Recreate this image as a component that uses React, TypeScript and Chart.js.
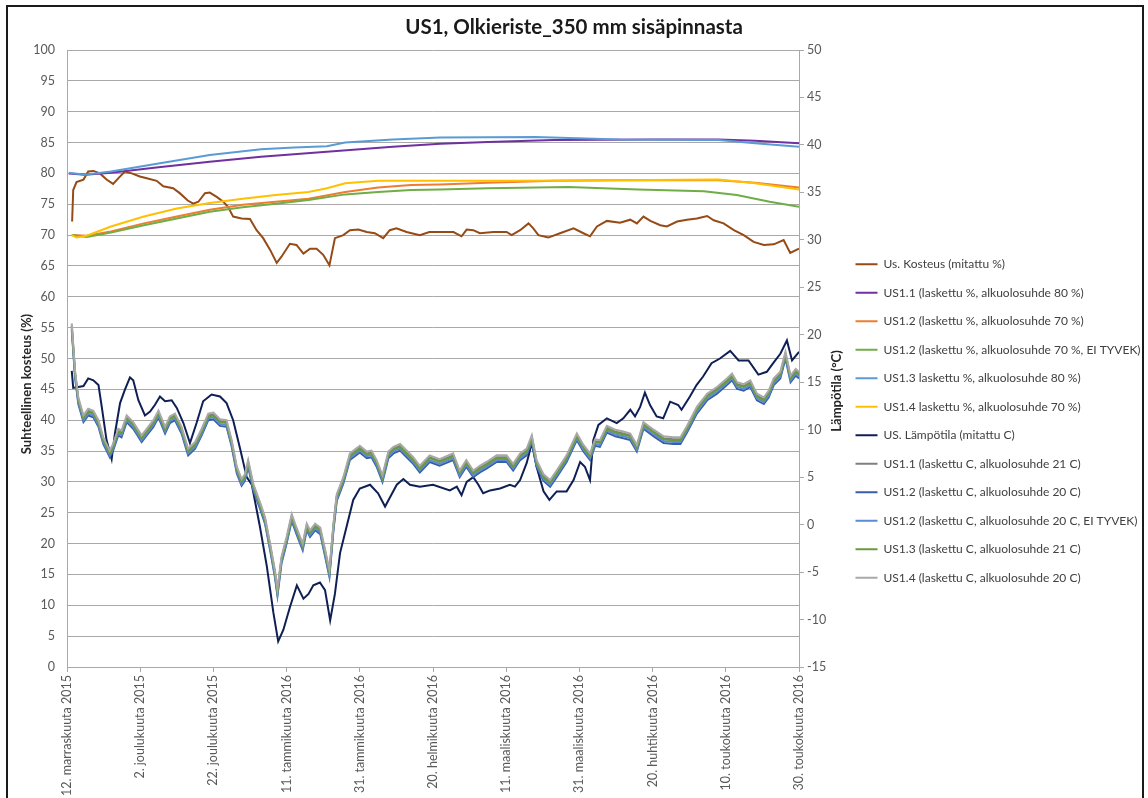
import React, { useEffect, useRef } from 'react';
import { Chart, registerables } from 'chart.js';

Chart.register(...registerables);

// ---------------- DATA ----------------
const chartTitle = 'US1, Olkieriste_350 mm sisäpinnasta';
const leftAxisTitle = 'Suhteellinen kosteus (%)';
const rightAxisTitle = 'Lämpötila (°C)';

// day offsets from 12 Nov 2015 for every x tick (step 20 days)
const xTickLabels = [
  '12. marraskuuta 2015', '2. joulukuuta 2015', '22. joulukuuta 2015', '11. tammikuuta 2016',
  '31. tammikuuta 2016', '20. helmikuuta 2016', '11. maaliskuuta 2016', '31. maaliskuuta 2016',
  '20. huhtikuuta 2016', '10. toukokuuta 2016', '30. toukokuuta 2016',
];

const seriesNames = [
  'Us. Kosteus (mitattu %)',
  'US1.1 (laskettu %, alkuolosuhde 80 %)',
  'US1.2 (laskettu %, alkuolosuhde 70 %)',
  'US1.2 (laskettu %, alkuolosuhde 70 %, EI TYVEK)',
  'US1.3 laskettu %, alkuolosuhde 80 %)',
  'US1.4 laskettu %, alkuolosuhde 70 %)',
  'US. Lämpötila (mitattu C)',
  'US1.1 (laskettu C, alkuolosuhde 21 C)',
  'US1.2 (laskettu C, alkuolosuhde 20 C)',
  'US1.2 (laskettu C, alkuolosuhde 20 C, EI TYVEK)',
  'US1.3 (laskettu C, alkuolosuhde 21 C)',
  'US1.4 (laskettu C, alkuolosuhde 20 C)',
];

// measured relative humidity (%)
const kosteusDays = [1.4, 1.7, 2.6, 4.5, 5.8, 7.2, 9, 10.8, 12.6, 14, 15.8, 17.7, 19.9, 21.8, 24.5, 26.3, 29, 30.8, 33, 34.5, 35.9, 37.7, 39, 40.9, 42.7, 44, 45.4, 47.7, 50, 51.8, 53.6, 55.5, 57.3, 58.6, 60.9, 62.7, 64.6, 66.4, 68.2, 70, 71.7, 73.2, 75.5, 77.3, 79.6, 81.9, 84.1, 86.4, 88.2, 90, 92.8, 96.4, 99, 101, 105.6, 107.8, 109.2, 111, 112.8, 116.5, 120.1, 121.5, 123.8, 126.1, 127.4, 128.8, 131.5, 134.7, 138.4, 141.1, 142.9, 144.8, 147.5, 151.1, 153.9, 155.7, 157.5, 159.4, 162.1, 163.9, 166.7, 169.4, 172.1, 174.9, 176.7, 179.4, 182.2, 184.9, 187.6, 190.4, 193.1, 195.8, 197.6, 200];
const kosteusValues = [72.2, 77.3, 78.6, 79, 80.3, 80.4, 80, 79, 78.3, 79.2, 80.3, 80, 79.5, 79.2, 78.8, 77.9, 77.6, 76.8, 75.6, 75.1, 75.4, 76.8, 76.9, 76.2, 75.4, 74.6, 73, 72.7, 72.6, 70.8, 69.5, 67.6, 65.5, 66.5, 68.6, 68.4, 67, 67.8, 67.8, 66.8, 65.1, 69.5, 70, 70.8, 70.9, 70.5, 70.3, 69.5, 70.8, 71.1, 70.5, 70, 70.5, 70.5, 70.5, 69.8, 70.9, 70.8, 70.3, 70.5, 70.5, 70, 70.8, 71.9, 71.1, 70, 69.6, 70.3, 71.1, 70.3, 69.8, 71.4, 72.3, 72, 72.5, 71.9, 73, 72.3, 71.6, 71.4, 72.2, 72.5, 72.7, 73.1, 72.4, 71.9, 70.8, 70, 68.9, 68.4, 68.5, 69.2, 67.1, 67.8];

// calculated relative humidity (%)
const us11pDays = [0.5, 5, 12, 25, 39, 53, 71, 89, 102, 115, 133, 160, 178, 188, 200];
const us11pValues = [80, 79.8, 80.1, 81, 81.9, 82.7, 83.5, 84.3, 84.8, 85.1, 85.4, 85.5, 85.5, 85.3, 84.9];

const us12pDays = [1.3, 5.4, 12, 21, 30, 39, 48, 57, 66, 76, 85, 94, 102, 115, 133, 151, 178, 188, 200];
const us12pValues = [70, 69.9, 70.6, 71.9, 73, 74.1, 74.9, 75.4, 75.9, 77, 77.7, 78.1, 78.2, 78.5, 78.8, 78.9, 78.9, 78.5, 77.7];

const us12pTyvekDays = [1.3, 5.4, 12, 21, 30, 39, 48, 57, 66, 76, 85, 94, 102, 115, 137, 156, 174, 183, 192, 200];
const us12pTyvekValues = [70, 69.7, 70.4, 71.6, 72.7, 73.8, 74.5, 75.1, 75.7, 76.6, 77, 77.3, 77.4, 77.6, 77.8, 77.4, 77.1, 76.5, 75.4, 74.6];

const us13pDays = [0.5, 5, 12, 25, 39, 53, 62, 71, 76, 89, 102, 128, 151, 178, 188, 200];
const us13pValues = [80.1, 79.8, 80.3, 81.6, 83, 83.9, 84.2, 84.4, 85, 85.5, 85.8, 85.9, 85.5, 85.4, 84.9, 84.3];

const us14pDays = [1.3, 2.6, 5.4, 12, 21, 30, 39, 48, 57, 66, 71, 76, 85, 102, 124, 151, 178, 188, 200];
const us14pValues = [70, 69.6, 69.9, 71.4, 73, 74.3, 75.2, 75.9, 76.5, 77, 77.6, 78.4, 78.8, 78.8, 78.8, 78.9, 79, 78.4, 77.4];

// measured temperature (°C)
const tempDays = [1.3, 1.7, 3.1, 4.5, 5.8, 7.2, 8.6, 9.5, 10.8, 12.2, 13.1, 14.5, 15.8, 17.2, 18.1, 19.5, 21.3, 22.7, 24, 25.4, 26.8, 28.6, 30, 31.8, 33.6, 35.4, 37.2, 39.5, 41.8, 43.6, 45.4, 47.3, 49.1, 50.5, 52.7, 54.6, 56.4, 57.7, 59.1, 60.9, 62.8, 64.6, 66, 67.3, 69.1, 70.5, 71.9, 73.2, 74.6, 76.4, 78.2, 80, 82.8, 85, 86.9, 88.3, 90.1, 91.9, 93.7, 96.4, 100, 104.6, 106.5, 107.8, 109.2, 111, 112.4, 113.7, 115.6, 118.3, 121, 122.4, 123.8, 125.6, 127, 128.3, 130.2, 131.8, 133.8, 136.5, 138.4, 140.2, 141.5, 142.9, 143.8, 145.2, 147.5, 150.2, 152, 153.9, 155.2, 156.6, 157.9, 159.3, 161.1, 162.9, 164.8, 167, 167.9, 170.2, 172, 173.8, 176.1, 178.4, 181.2, 183.5, 186.2, 188.9, 191.2, 193.1, 194.9, 196.7, 198.1, 200];
const tempValues = [16.2, 14.4, 14.5, 14.6, 15.4, 15.2, 14.7, 12.4, 8.9, 6.9, 9.6, 12.8, 14.2, 15.5, 15.2, 13.1, 11.5, 11.9, 12.6, 13.5, 13, 13.1, 12.3, 10.7, 8.6, 10.7, 13, 13.7, 13.5, 12.8, 11, 8, 5, 4.2, -0.2, -4.4, -9.3, -12.3, -11.1, -8.7, -6.4, -7.8, -7.3, -6.4, -6.1, -6.9, -10.1, -7.3, -3, -0.2, 2.6, 3.8, 4.2, 3.3, 1.9, 2.9, 4.2, 4.8, 4.2, 4.0, 4.2, 3.6, 4.0, 3.1, 4.5, 5.0, 4.2, 3.3, 3.6, 3.8, 4.2, 4.0, 4.7, 6.5, 8.6, 6.1, 3.5, 2.6, 3.5, 3.5, 4.7, 6.6, 6.1, 4.7, 8.9, 10.5, 11.2, 10.7, 11.2, 12.1, 11.4, 12.4, 13.9, 12.6, 11.4, 11.2, 12.95, 12.6, 12.1, 13.5, 14.7, 15.6, 17, 17.5, 18.3, 17.3, 17.3, 15.8, 16.1, 17.1, 18.0, 19.4, 17.3, 18.2];

// calculated temperatures (°C) share one set of days
const calcDays = [1.3, 2.2, 3.1, 4.5, 5.8, 7.2, 8.6, 9.9, 11.7, 12.6, 14, 14.9, 16.3, 18.1, 20.4, 22.2, 23.6, 25, 26.8, 28.1, 29.5, 31.3, 33.1, 35, 36.8, 38.6, 40, 41.8, 43.6, 45, 46.4, 47.7, 48.6, 49.5, 50.9, 52.7, 54.1, 55.5, 56.8, 57.5, 58.6, 60, 61.4, 62.7, 64.4, 65.5, 66.4, 67.8, 69.2, 70.5, 71.7, 72.8, 73.7, 75.5, 77.3, 80, 81.9, 83.2, 84.6, 86.2, 87.8, 89.2, 91, 92.8, 94.6, 96.4, 99.1, 101.8, 105.5, 107.3, 109.1, 111, 112.8, 114.6, 117.4, 120.1, 121.9, 123.8, 125.6, 127, 128.3, 130.2, 132, 133.8, 136.5, 139.3, 141.1, 142.9, 144.3, 145.6, 147.5, 149.8, 152, 153.9, 155.7, 157.5, 160.3, 163, 165.7, 167.6, 169.4, 172.1, 174.9, 177.6, 180.3, 181.7, 183.1, 184.9, 186.7, 188.5, 190.4, 191.7, 193.1, 194.9, 196.3, 197.7, 199.1, 200];
const us11cValues = [21.0, 16.0, 13.2, 11.3, 12.0, 11.8, 10.8, 9.0, 7.6, 8.3, 9.9, 9.7, 11.3, 10.6, 9.2, 10.1, 10.8, 11.8, 10.1, 11.2, 11.5, 10.1, 7.8, 8.5, 9.9, 11.5, 11.6, 10.9, 10.8, 8.7, 5.9, 4.6, 5.1, 6.6, 4.1, 2.2, 0.6, -2.2, -5.0, -7.0, -3.6, -1.5, 0.9, -0.5, -2.2, -0.1, -0.8, -0.1, -0.5, -2.8, -5.0, -0.1, 3.0, 4.8, 7.3, 8.1, 7.5, 7.6, 6.6, 5.0, 7.5, 8.0, 8.3, 7.6, 6.9, 6.0, 7.1, 6.7, 7.3, 5.5, 6.6, 5.5, 6.0, 6.4, 7.1, 7.1, 6.2, 7.3, 7.8, 9.2, 6.6, 5.1, 4.5, 5.5, 7.1, 9.4, 8.2, 7.3, 8.8, 8.7, 10.2, 9.8, 9.6, 9.4, 8.2, 10.6, 9.8, 9.1, 9.0, 9.0, 10.2, 12.2, 13.6, 14.3, 15.2, 15.7, 14.8, 14.6, 15.0, 13.6, 13.2, 13.9, 15.2, 15.9, 18.0, 15.5, 16.2, 15.9];
const us12cValues = [20.5, 15.5, 12.7, 10.8, 11.5, 11.3, 10.3, 8.5, 7.1, 7.8, 9.4, 9.2, 10.8, 10.1, 8.7, 9.6, 10.3, 11.3, 9.6, 10.7, 11.0, 9.6, 7.3, 8.0, 9.4, 11.0, 11.1, 10.4, 10.3, 8.2, 5.4, 4.1, 4.6, 6.1, 3.6, 1.7, 0.1, -2.7, -5.5, -7.5, -4.1, -2.0, 0.4, -1.0, -2.7, -0.6, -1.3, -0.6, -1.0, -3.3, -5.5, -0.6, 2.5, 4.3, 6.8, 7.6, 7.0, 7.1, 6.1, 4.5, 7.0, 7.5, 7.8, 7.1, 6.4, 5.5, 6.6, 6.2, 6.8, 5.0, 6.1, 5.0, 5.5, 5.9, 6.6, 6.6, 5.7, 6.8, 7.3, 8.7, 6.1, 4.6, 4.0, 5.0, 6.6, 8.9, 7.7, 6.8, 8.3, 8.2, 9.7, 9.3, 9.1, 8.9, 7.7, 10.1, 9.3, 8.6, 8.5, 8.5, 9.7, 11.7, 13.1, 13.8, 14.7, 15.2, 14.3, 14.1, 14.5, 13.1, 12.7, 13.4, 14.7, 15.4, 17.5, 15.0, 15.7, 15.4];
const us12cTyvekValues = [20.7, 15.7, 12.9, 11.0, 11.7, 11.5, 10.5, 8.7, 7.3, 8.0, 9.6, 9.4, 11.0, 10.3, 8.9, 9.8, 10.5, 11.5, 9.8, 10.9, 11.2, 9.8, 7.5, 8.2, 9.6, 11.2, 11.3, 10.6, 10.5, 8.4, 5.6, 4.3, 4.8, 6.3, 3.8, 1.9, 0.3, -2.5, -5.3, -7.3, -3.9, -1.8, 0.6, -0.8, -2.5, -0.4, -1.1, -0.4, -0.8, -3.1, -5.3, -0.4, 2.7, 4.5, 7.0, 7.8, 7.2, 7.3, 6.3, 4.7, 7.2, 7.7, 8.0, 7.3, 6.6, 5.7, 6.8, 6.4, 7.0, 5.2, 6.3, 5.2, 5.7, 6.1, 6.8, 6.8, 5.9, 7.0, 7.5, 8.9, 6.3, 4.8, 4.2, 5.2, 6.8, 9.1, 7.9, 7.0, 8.5, 8.4, 9.9, 9.5, 9.3, 9.1, 7.9, 10.3, 9.5, 8.8, 8.7, 8.7, 9.9, 11.9, 13.3, 14.0, 14.9, 15.4, 14.5, 14.3, 14.7, 13.3, 12.9, 13.6, 14.9, 15.6, 17.7, 15.2, 15.9, 15.6];
const us13cValues = [20.9, 15.9, 13.1, 11.2, 11.9, 11.7, 10.7, 8.9, 7.5, 8.2, 9.8, 9.6, 11.2, 10.5, 9.1, 10.0, 10.7, 11.7, 10.0, 11.1, 11.4, 10.0, 7.7, 8.4, 9.8, 11.4, 11.5, 10.8, 10.7, 8.6, 5.8, 4.5, 5.0, 6.5, 4.0, 2.1, 0.5, -2.3, -5.1, -7.1, -3.7, -1.6, 0.8, -0.6, -2.3, -0.2, -0.9, -0.2, -0.6, -2.9, -5.1, -0.2, 2.9, 4.7, 7.2, 8.0, 7.4, 7.5, 6.5, 4.9, 7.4, 7.9, 8.2, 7.5, 6.8, 5.9, 7.0, 6.6, 7.2, 5.4, 6.5, 5.4, 5.9, 6.3, 7.0, 7.0, 6.1, 7.2, 7.7, 9.1, 6.5, 5.0, 4.4, 5.4, 7.0, 9.3, 8.1, 7.2, 8.7, 8.6, 10.1, 9.7, 9.5, 9.3, 8.1, 10.5, 9.7, 9.0, 8.9, 8.9, 10.1, 12.1, 13.5, 14.2, 15.1, 15.6, 14.7, 14.5, 14.9, 13.5, 13.1, 13.8, 15.1, 15.8, 17.9, 15.4, 16.1, 15.8];
const us14cValues = [21.2, 16.2, 13.4, 11.5, 12.2, 12.0, 11.0, 9.2, 7.8, 8.5, 10.1, 9.9, 11.5, 10.8, 9.4, 10.3, 11.0, 12.0, 10.3, 11.4, 11.7, 10.3, 8.0, 8.7, 10.1, 11.7, 11.8, 11.1, 11.0, 8.9, 6.1, 4.8, 5.3, 6.8, 4.3, 2.4, 0.8, -2.0, -4.8, -6.8, -3.4, -1.3, 1.1, -0.3, -2.0, 0.1, -0.6, 0.1, -0.3, -2.6, -4.8, 0.1, 3.2, 5.0, 7.5, 8.3, 7.7, 7.8, 6.8, 5.2, 7.7, 8.2, 8.5, 7.8, 7.1, 6.2, 7.3, 6.9, 7.5, 5.7, 6.8, 5.7, 6.2, 6.6, 7.3, 7.3, 6.4, 7.5, 8.0, 9.4, 6.8, 5.3, 4.7, 5.7, 7.3, 9.6, 8.4, 7.5, 9.0, 8.9, 10.4, 10.0, 9.8, 9.6, 8.4, 10.8, 10.0, 9.3, 9.2, 9.2, 10.4, 12.4, 13.8, 14.5, 15.4, 15.9, 15.0, 14.8, 15.2, 13.8, 13.4, 14.1, 15.4, 16.1, 18.2, 15.7, 16.4, 16.1];

// ---------------- STYLE ----------------
const seriesColors = ['#964B16', '#7030A0', '#ED7D31', '#70AD47', '#5B9BD5', '#FFC000', '#0E1F55', '#7F7F7F', '#3A5DA8', '#5A8BD6', '#6A9A3C', '#A8A8A8'];
const FONT = 'Lato';
const GRID = '#A9A9A9';
const TICK = '#595959';

const pts = (xs: number[], ys: number[]) => xs.map((x, i) => ({ x, y: ys[i] }));

const axisTitlesPlugin = {
  id: 'axisTitles',
  afterDraw(chart: any) {
    const { ctx, chartArea } = chart;
    const mid = (chartArea.top + chartArea.bottom) / 2;
    ctx.save();
    ctx.font = `bold 13px ${FONT}`;
    ctx.fillStyle = '#262626';
    ctx.textAlign = 'center';
    ctx.textBaseline = 'middle';
    const draw = (text: string, x: number, y: number) => {
      ctx.save();
      ctx.translate(x, y);
      ctx.rotate(-Math.PI / 2);
      ctx.fillText(text, 0, 0);
      ctx.restore();
    };
    draw(leftAxisTitle, chartArea.left - 40.5, mid + 25.5);
    draw(rightAxisTitle, chartArea.right + 38, mid + 32.5);
    ctx.restore();
  },
};

export default function App() {
  const ref = useRef<HTMLCanvasElement | null>(null);

  useEffect(() => {
    if (!ref.current) return;
    Chart.defaults.font.family = FONT;
    const series = [
      { d: kosteusDays, v: kosteusValues, axis: 'y' },
      { d: us11pDays, v: us11pValues, axis: 'y' },
      { d: us12pDays, v: us12pValues, axis: 'y' },
      { d: us12pTyvekDays, v: us12pTyvekValues, axis: 'y' },
      { d: us13pDays, v: us13pValues, axis: 'y' },
      { d: us14pDays, v: us14pValues, axis: 'y' },
      { d: tempDays, v: tempValues, axis: 'y2' },
      { d: calcDays, v: us11cValues, axis: 'y2' },
      { d: calcDays, v: us12cValues, axis: 'y2' },
      { d: calcDays, v: us12cTyvekValues, axis: 'y2' },
      { d: calcDays, v: us13cValues, axis: 'y2' },
      { d: calcDays, v: us14cValues, axis: 'y2' },
    ];
    const datasets = series.map((s, i) => ({
      label: seriesNames[i],
      data: pts(s.d, s.v),
      yAxisID: s.axis,
      borderColor: seriesColors[i],
      backgroundColor: seriesColors[i],
      pointBorderColor: seriesColors[i],
      pointBackgroundColor: seriesColors[i],
      borderWidth: 2,
      pointBorderWidth: 2,
      pointRadius: 0,
      pointHoverRadius: 0,
      tension: 0,
      fill: false,
      order: -i,
    }));

    const chart = new Chart(ref.current, {
      type: 'line',
      data: { datasets },
      options: {
        responsive: false,
        maintainAspectRatio: false,
        animation: false,
        devicePixelRatio: 1,
        layout: { padding: 0 },
        plugins: {
          title: {
            display: true,
            text: chartTitle,
            color: '#1A1A1A',
            font: { family: FONT, size: 20.5, weight: 'bold' },
            padding: { top: 7.1, bottom: 10.3 },
          },
          legend: {
            display: true,
            position: 'right',
            maxWidth: 301,
            labels: {
              usePointStyle: true,
              pointStyle: 'line',
              pointStyleWidth: 22,
              padding: 16.5,
              color: '#404040',
              font: { family: FONT, size: 12 },
              sort: (a: any, b: any) => a.datasetIndex - b.datasetIndex,
            },
          },
          tooltip: { enabled: false },
        },
        scales: {
          x: {
            type: 'linear',
            min: 0,
            max: 200,
            afterFit: (s: any) => { s.height = 167; },
            grid: { drawOnChartArea: false, drawTicks: true, tickLength: 5, color: GRID },
            border: { display: true, color: GRID },
            ticks: {
              stepSize: 20,
              autoSkip: false,
              minRotation: 90,
              maxRotation: 90,
              padding: 3,
              color: TICK,
              font: { family: FONT, size: 12.5 },
              callback: (v: any) => xTickLabels[Math.round(Number(v) / 20)] ?? '',
            },
          },
          y: {
            position: 'left',
            min: 0,
            max: 100,
            afterFit: (s: any) => { s.width = 59; },
            grid: { color: GRID, drawTicks: false },
            border: { display: true, color: GRID },
            ticks: { stepSize: 5, padding: 12, color: TICK, font: { family: FONT, size: 12.5 } },
          },
          y2: {
            position: 'right',
            min: -15,
            max: 50,
            afterFit: (s: any) => { s.width = 40; },
            grid: { drawOnChartArea: false, drawTicks: true, tickLength: 5, color: GRID },
            border: { display: true, color: GRID },
            ticks: { stepSize: 5, padding: 3, color: TICK, font: { family: FONT, size: 12.5 } },
          },
        },
      },
      plugins: [axisTitlesPlugin],
    } as any);
    return () => chart.destroy();
  }, []);

  return (
    <div>
      <div
        style={{
          position: 'absolute', left: 6, top: 5, width: 1138, height: 793, boxSizing: 'border-box',
          borderTop: '2px solid #1a1a1a', borderLeft: '2px solid #1a1a1a', borderRight: '2px solid #1a1a1a',
        }}
      />
      <div style={{ position: 'absolute', left: 8, top: 8, width: 1132, height: 790, overflow: 'hidden' }}>
        <canvas ref={ref} width={1132} height={826} style={{ display: 'block', width: 1132, height: 826 }} />
      </div>
    </div>
  );
}
